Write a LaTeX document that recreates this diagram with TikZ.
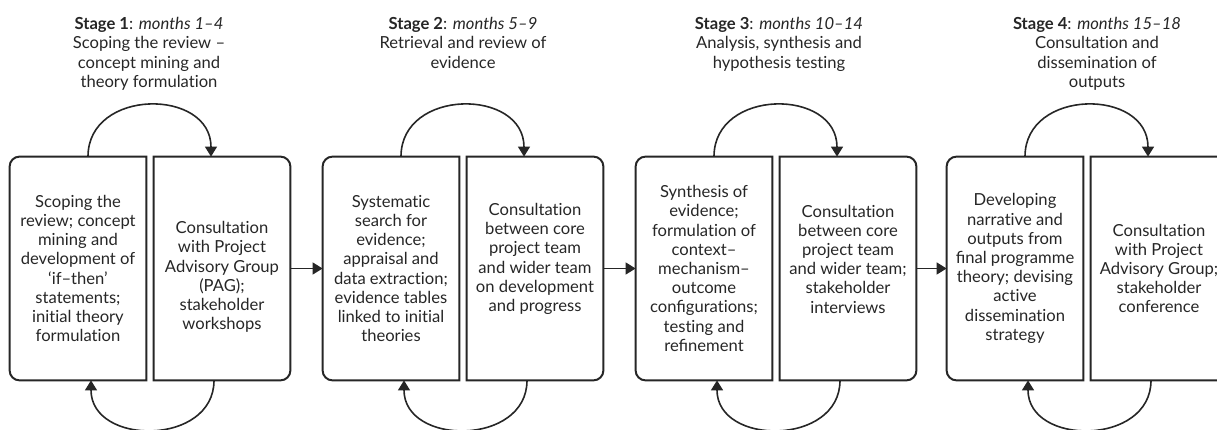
\documentclass[tikz,border=0pt]{standalone}
\usepackage{fontspec}
\setmainfont{Lato}
\usepackage{tikz}
\usetikzlibrary{calc,arrows.meta}
\definecolor{ink}{HTML}{262626}
% keep t and i apart (no ti ligature)
\XeTeXinterchartokenstate=1
\newXeTeXintercharclass\tchar
\newXeTeXintercharclass\ichar
\XeTeXcharclass`\t=\tchar
\XeTeXcharclass`\i=\ichar
\XeTeXinterchartoks\tchar\ichar={\kern0pt }
\newcommand{\Frames}[1]{%
  \draw[line width=1pt,color=ink] (act#1.north east) -- ([xshift=5pt]act#1.north west) arc[start angle=90,end angle=180,radius=5pt] -- ([yshift=5pt]act#1.south west) arc[start angle=180,end angle=270,radius=5pt] -- (act#1.south east) -- cycle;
  \draw[line width=1pt,color=ink] (con#1.north west) -- ([xshift=-5pt]con#1.north east) arc[start angle=90,end angle=0,radius=5pt] -- ([yshift=5pt]con#1.south east) arc[start angle=0,end angle=-90,radius=5pt] -- (con#1.south west) -- cycle;
  \draw[-{Triangle[length=5pt,width=6pt]},line width=0.8pt,color=ink] ([xshift=5pt]act#1.north) to[out=90,in=90,looseness=1.43] ([xshift=-5.5pt]con#1.north);
  \draw[-{Triangle[length=5pt,width=6pt]},line width=0.8pt,color=ink] ([xshift=-4pt]con#1.south) to[out=-90,in=-90,looseness=1.37] ([xshift=6.5pt]act#1.south);
}

\begin{document}
\begin{tikzpicture}[x=0.5pt,y=0.5pt,
  frame/.style={minimum width=68pt,minimum height=111.5pt,inner sep=0pt},
  txt/.style={align=center,inner sep=0pt,text=ink,font=\fontsize{8.3}{9.6}\selectfont}]
  \useasboundingbox (0,0) rectangle (1217,429);
  \clip (0,0) rectangle (1217,429);
  % stage boxes
  \node[frame] (act1) at (78,160.5) {};
  \node[frame] (con1) at (222,160.5) {};
  \node[frame] (act2) at (391,160.5) {};
  \node[frame] (con2) at (535,160.5) {};
  \node[frame] (act3) at (704,160.5) {};
  \node[frame] (con3) at (848,160.5) {};
  \node[frame] (act4) at (1015,160.5) {};
  \node[frame] (con4) at (1159,160.5) {};
  \Frames{1}
  \Frames{2}
  \Frames{3}
  \Frames{4}
  \draw[-{Triangle[length=5pt,width=6pt]},line width=0.8pt,color=ink] (con1.east) -- (act2.west);
  \draw[-{Triangle[length=5pt,width=6pt]},line width=0.8pt,color=ink] (con2.east) -- (act3.west);
  \draw[-{Triangle[length=5pt,width=6pt]},line width=0.8pt,color=ink] (con3.east) -- (act4.west);
  % headings
  \node[txt,anchor=north] (head1) at (149,412) {\textbf{Stage 1}: \textit{months 1–4}\\Scoping the review –\\concept mining and\\theory formulation};
  \node[txt,anchor=north] (head2) at (463,412) {\textbf{Stage 2}: \textit{months 5–9}\\Retrieval and review of\\evidence};
  \node[txt,anchor=north] (head3) at (779,412) {\textbf{Stage 3}: \textit{months 10–14}\\Analysis, synthesis and\\hypothesis testing};
  \node[txt,anchor=north] (head4) at (1097,412) {\textbf{Stage 4}: \textit{months 15–18}\\Consultation and\\dissemination of\\outputs};
  % box texts
  \node[txt] (act1t) at (act1) {Scoping the\\review; concept\\mining and\\development of\\‘if–then’\\statements;\\initial theory\\formulation};
  \node[txt] (con1t) at ([yshift=-4.25pt]con1.center) {Consultation\\with Project\\Advisory Group\\(PAG);\\stakeholder\\workshops};
  \node[txt] (act2t) at (act2) {Systematic\\search for\\evidence;\\appraisal and\\data extraction;\\evidence tables\\linked to initial\\theories};
  \node[txt] (con2t) at ([yshift=4.75pt]con2.center) {Consultation\\between core\\project team\\and wider team\\on development\\and progress};
  \node[txt] (act3t) at (act3) {Synthesis of\\evidence;\\formulation of\\context–\\mechanism–\\outcome\\configurations;\\testing and\\refinement};
  \node[txt] (con3t) at ([yshift=4.75pt]con3.center) {Consultation\\between core\\project team\\and wider team;\\stakeholder\\interviews};
  \node[txt] (act4t) at (act4) {Developing\\narrative and\\outputs from\\final programme\\theory; devising\\active\\dissemination\\strategy};
  \node[txt] (con4t) at (con4) {Consultation\\with Project\\Advisory Group;\\stakeholder\\conference};
\end{tikzpicture}
\end{document}
